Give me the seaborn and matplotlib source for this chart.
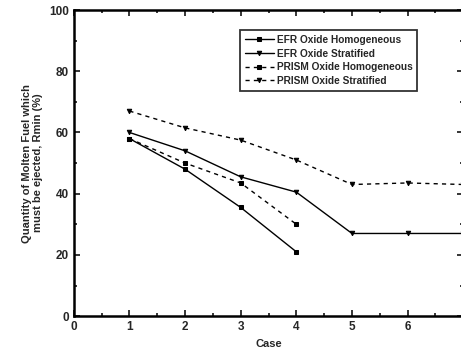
import matplotlib
matplotlib.use("Agg")
import matplotlib.pyplot as plt
import seaborn as sns
import pandas as pd
from matplotlib.ticker import MultipleLocator

cases_short = [1, 2, 3, 4]
cases_long = [1, 2, 3, 4, 5, 6, 7]
efr_homog = [58, 48, 35.5, 21]
efr_strat = [60, 54, 45.5, 40.5, 27, 27, 27]
prism_homog = [58, 50, 43.5, 30]
prism_strat = [67, 61.5, 57.5, 51, 43, 43.5, 43]
x_tick_labels = ["0", "1", "2", "3", "4", "5", "6", ""]

series = [
    ("EFR Oxide Homogeneous", cases_short, efr_homog),
    ("EFR Oxide Stratified", cases_long, efr_strat),
    ("PRISM Oxide Homogeneous", cases_short, prism_homog),
    ("PRISM Oxide Stratified", cases_long, prism_strat),
]
rows = []
for name, xs, ys in series:
    for x, y in zip(xs, ys):
        rows.append({"Series": name, "Case": x, "Value": y})
df = pd.DataFrame(rows)

sns.set_theme(style="ticks")
plt.rcParams["font.family"] = ["Liberation Sans", "DejaVu Sans"]
plt.rcParams["font.weight"] = "bold"

fig = plt.figure(figsize=(4.61, 3.58), dpi=100)
ax = fig.add_axes([0.160, 0.117, 0.845, 0.855])

order = [s[0] for s in series]
sns.lineplot(
    data=df, x="Case", y="Value", hue="Series", style="Series",
    hue_order=order, style_order=order,
    palette=["black"] * 4,
    dashes={order[0]: "", order[1]: "", order[2]: (3, 3), order[3]: (3, 3)},
    markers={order[0]: "s", order[1]: "v", order[2]: "s", order[3]: "v"},
    markersize=3.2, linewidth=1.0, markeredgecolor="black", ax=ax,
)

ax.set_xlim(0, 7)
ax.set_ylim(0, 100)
ax.set_xticks(range(0, 8))
ax.set_xticklabels(x_tick_labels)
ax.xaxis.set_minor_locator(MultipleLocator(0.5))
ax.yaxis.set_major_locator(MultipleLocator(20))
ax.yaxis.set_minor_locator(MultipleLocator(10))
ax.tick_params(which="both", direction="in", top=True, right=True, labelsize=8.5, width=1.3)
ax.tick_params(which="major", length=4)
ax.tick_params(which="minor", length=2)
for lab in ax.get_xticklabels() + ax.get_yticklabels():
    lab.set_fontweight("bold")
for sp in ax.spines.values():
    sp.set_linewidth(1.8)
    sp.set_color("black")

ax.set_xlabel("Case", fontsize=8, fontweight="bold")
ax.set_ylabel("Quantity of Molten Fuel which\nmust be ejected, Rmin (%)", fontsize=8, fontweight="bold")

leg = ax.legend(loc="upper left", bbox_to_anchor=(0.427, 0.935), borderaxespad=0, fontsize=7.3,
                frameon=True, fancybox=False, edgecolor="black",
                handlelength=2.8, borderpad=0.5, labelspacing=0.35, handletextpad=0.3)
leg.get_frame().set_linewidth(1.3)
for t in leg.get_texts():
    t.set_fontweight("bold")

fig.savefig("out.png", dpi=100)
